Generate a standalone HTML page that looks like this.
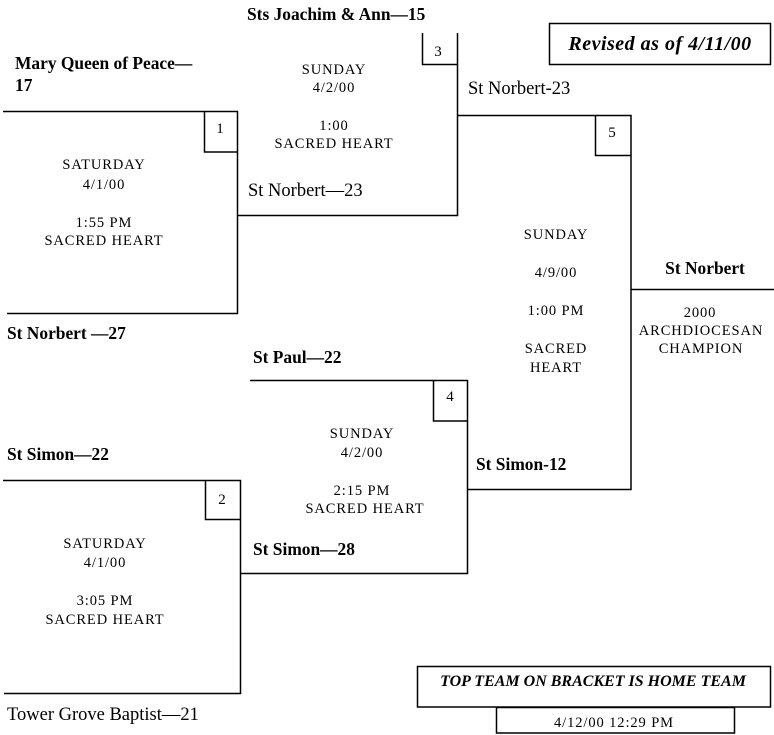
<!DOCTYPE html>
<html>
<head>
<meta charset="utf-8">
<style>
  html, body { margin:0; padding:0; background:#fff; }
  svg { display:block; }
  .t { font-family:"Liberation Serif", serif; font-size:18.5px; fill:#000; }
  .b { font-weight:bold; font-size:17.4px; }
  .m { font-family:"Liberation Serif", serif; font-size:14.5px; letter-spacing:0.9px; fill:#000; text-anchor:middle; }
  .n { font-family:"Liberation Serif", serif; font-size:15px; fill:#000; text-anchor:middle; }
  line, rect, path { stroke:#000; stroke-width:1.5; fill:none; }
</style>
</head>
<body>
<svg width="774" height="735" viewBox="0 0 774 735" xmlns="http://www.w3.org/2000/svg">
  <!-- Bracket 1 -->
  <path d="M3,111.5 H237.5 V313.5 H7"/>
  <path d="M204.5,111.5 V152 H237.5"/>
  <!-- Bracket 3 -->
  <path d="M457.5,33 V215.5 H237.5"/>
  <path d="M422.5,33 V64.5 H457.5"/>
  <!-- Bracket 5 -->
  <path d="M457.5,115.5 H631 V489.5 H467.5"/>
  <path d="M595.5,115.5 V155.5 H631"/>
  <line x1="631" y1="289.5" x2="774" y2="289.5"/>
  <!-- Bracket 4 -->
  <path d="M250,380.5 H467.5 V573.5 H240.5"/>
  <path d="M433.5,380.5 V421 H467.5"/>
  <!-- Bracket 2 -->
  <path d="M3,480.5 H240.5 V693.5 H4"/>
  <path d="M205.5,480.5 V519.5 H240.5"/>
  <!-- Info boxes -->
  <rect x="549.5" y="23.5" width="221" height="41"/>
  <rect x="417.5" y="666.5" width="353" height="40.5"/>
  <rect x="496.5" y="707.5" width="238" height="25.5"/>

  <!-- Box numbers -->
  <text class="n" x="220" y="133">1</text>
  <text class="n" x="438" y="56">3</text>
  <text class="n" x="612" y="137">5</text>
  <text class="n" x="450" y="401">4</text>
  <text class="n" x="222" y="504">2</text>

  <!-- Team labels -->
  <text class="t b" x="247" y="20">Sts Joachim &amp; Ann—15</text>
  <text class="t b" x="15" y="69">Mary Queen of Peace—</text>
  <text class="t b" x="15" y="91">17</text>
  <text class="t" x="468" y="94">St Norbert-23</text>
  <text class="t" x="248" y="196">St Norbert—23</text>
  <text class="t b" x="7" y="339">St Norbert —27</text>
  <text class="t b" x="253" y="363">St Paul—22</text>
  <text class="t b" x="7" y="460">St Simon—22</text>
  <text class="t b" x="476" y="470">St Simon-12</text>
  <text class="t b" x="253" y="555">St Simon—28</text>
  <text class="t" x="7" y="720">Tower Grove Baptist—21</text>
  <text class="t b" x="705" y="274" text-anchor="middle">St Norbert</text>

  <!-- Game info: bracket 3 -->
  <text class="m" x="334" y="74">SUNDAY</text>
  <text class="m" x="334" y="92">4/2/00</text>
  <text class="m" x="334" y="130">1:00</text>
  <text class="m" x="334" y="148">SACRED HEART</text>
  <!-- bracket 1 -->
  <text class="m" x="104" y="169">SATURDAY</text>
  <text class="m" x="104" y="189">4/1/00</text>
  <text class="m" x="104" y="227">1:55 PM</text>
  <text class="m" x="104" y="245">SACRED HEART</text>
  <!-- bracket 5 -->
  <text class="m" x="556" y="239">SUNDAY</text>
  <text class="m" x="556" y="277">4/9/00</text>
  <text class="m" x="556" y="315">1:00 PM</text>
  <text class="m" x="556" y="353">SACRED</text>
  <text class="m" x="556" y="372">HEART</text>
  <!-- champion -->
  <text class="m" x="700" y="317">2000</text>
  <text class="m" x="701" y="335">ARCHDIOCESAN</text>
  <text class="m" x="701" y="353">CHAMPION</text>
  <!-- bracket 4 -->
  <text class="m" x="362" y="438">SUNDAY</text>
  <text class="m" x="362" y="457">4/2/00</text>
  <text class="m" x="362" y="495">2:15 PM</text>
  <text class="m" x="365" y="513">SACRED HEART</text>
  <!-- bracket 2 -->
  <text class="m" x="105" y="548">SATURDAY</text>
  <text class="m" x="105" y="567">4/1/00</text>
  <text class="m" x="105" y="605">3:05 PM</text>
  <text class="m" x="105" y="624">SACRED HEART</text>

  <!-- Notes -->
  <text x="660" y="50" text-anchor="middle" font-family="Liberation Serif, serif" font-weight="bold" font-style="italic" font-size="20" letter-spacing="0.5">Revised as of 4/11/00</text>
  <text x="593" y="686" text-anchor="middle" font-family="Liberation Serif, serif" font-weight="bold" font-style="italic" font-size="16">TOP TEAM ON BRACKET IS HOME TEAM</text>
  <text class="m" x="614" y="727">4/12/00 12:29 PM</text>
</svg>
</body>
</html>
